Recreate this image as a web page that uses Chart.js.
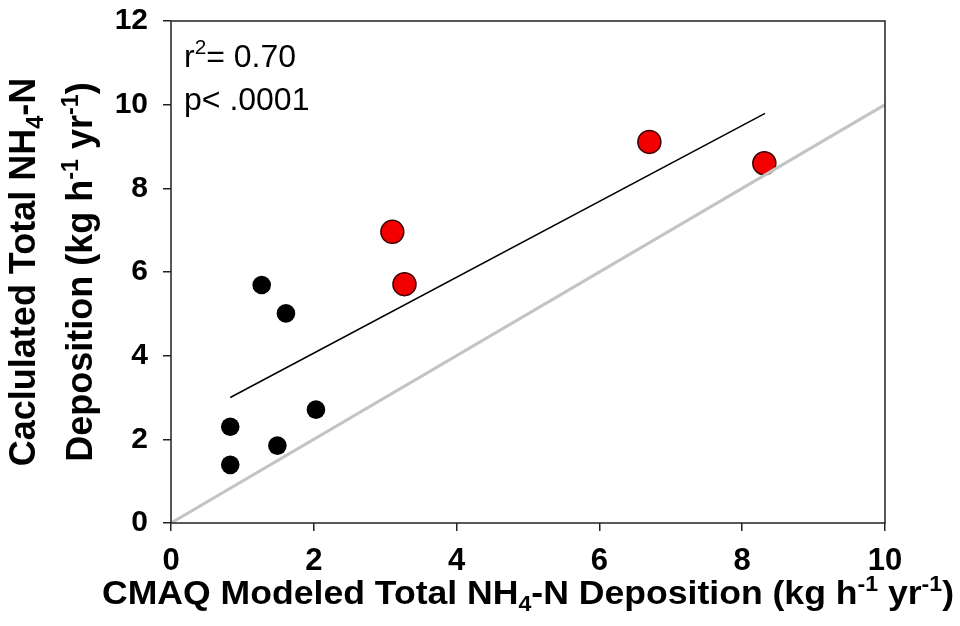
<!DOCTYPE html>
<html>
<head>
<meta charset="utf-8">
<script src="https://cdn.jsdelivr.net/npm/chart.js@4/dist/chart.umd.min.js"></script>
<style>
  html, body { margin: 0; padding: 0; background: #fff; }
  #wrap { width: 960px; height: 626px; position: relative; }
</style>
</head>
<body>
<div id="wrap"><canvas id="dep-chart"></canvas></div>
<script>
// sites: black = low deposition group, red = high deposition group
const blackX = [0.83, 0.83, 1.27, 1.61, 1.49, 2.03];
const blackY = [1.39, 2.30, 5.69, 5.01, 1.85, 2.71];
const redX = [3.10, 3.27, 6.70, 8.31];
const redY = [6.96, 5.71, 9.11, 8.60];

// regression line ends and the 1:1 line
const fitX = [0.83, 8.32];
const fitY = [3.00, 9.79];
const oneX = [0, 10];
const oneY = [0, 10];

const xTicks = [0, 2, 4, 6, 8, 10];
const yTicks = [0, 2, 4, 6, 8, 10, 12];

const statLines = ["0.70", ".0001"];

const FONT = "'Liberation Sans', Arial, Helvetica, sans-serif";

function pts(xs, ys) {
  return xs.map((x, i) => ({ x: x, y: ys[i] }));
}

// draws text with sub/superscript pieces, e.g. NH4, h-1
function drawRich(ctx, parts, x, y, size, weight, align) {
  const widths = parts.map((p) => {
    const s = p.sub || p.sup ? size * 0.65 : size;
    ctx.font = weight + " " + s + "px " + FONT;
    return ctx.measureText(p.t).width;
  });
  const total = widths.reduce((a, b) => a + b, 0);
  let cx = align === "center" ? x - total / 2 : x;
  ctx.textAlign = "left";
  ctx.textBaseline = "alphabetic";
  parts.forEach((p, i) => {
    const s = p.sub || p.sup ? size * 0.65 : size;
    ctx.font = weight + " " + s + "px " + FONT;
    let dy = 0;
    if (p.sub) dy = size * 0.22;
    if (p.sup) dy = -size * 0.4;
    ctx.fillText(p.t, cx, y + dy);
    cx += widths[i];
  });
  return total;
}

function richWidth(ctx, parts, size, weight) {
  let w = 0;
  parts.forEach((p) => {
    const s = p.sub || p.sup ? size * 0.65 : size;
    ctx.font = weight + " " + s + "px " + FONT;
    w += ctx.measureText(p.t).width;
  });
  return w;
}

const xTitle = [
  { t: "CMAQ Modeled Total NH" }, { t: "4", sub: true }, { t: "-N Deposition (kg h" },
  { t: "-1", sup: true }, { t: " yr" }, { t: "-1", sup: true }, { t: ")" },
];
const yTitle1 = [{ t: "Caclulated Total NH" }, { t: "4", sub: true }, { t: "-N" }];
const yTitle2 = [
  { t: "Deposition (kg h" }, { t: "-1", sup: true }, { t: " yr" }, { t: "-1", sup: true }, { t: ")" },
];

const framePlugin = {
  id: "frame",
  afterDraw(chart) {
    const ctx = chart.ctx;
    const a = chart.chartArea;
    ctx.save();
    ctx.strokeStyle = "#222";
    ctx.lineWidth = 1.5;
    ctx.strokeRect(a.left, a.top, a.right - a.left, a.bottom - a.top);
    ctx.fillStyle = "#000";

    // x axis title, fitted to the plot's width
    const xw = richWidth(ctx, xTitle, 33, "bold");
    ctx.save();
    ctx.translate((a.left + a.right) / 2, 604);
    ctx.scale(852 / xw, 1);
    drawRich(ctx, xTitle, 0, 0, 33, "bold", "center");
    ctx.restore();

    // y axis title, two rotated lines
    const midY = (a.top + a.bottom) / 2;
    ctx.save();
    ctx.translate(35, midY);
    ctx.rotate(-Math.PI / 2);
    drawRich(ctx, yTitle1, 0, 0, 36, "bold", "center");
    ctx.restore();
    ctx.save();
    ctx.translate(92, midY);
    ctx.rotate(-Math.PI / 2);
    drawRich(ctx, yTitle2, 0, 0, 36, "bold", "center");
    ctx.restore();

    // fit statistics
    drawRich(ctx, [{ t: "r" }, { t: "2", sup: true }, { t: "= " + statLines[0] }],
      a.left + 13, a.top + 46, 32, "normal", "left");
    drawRich(ctx, [{ t: "p< " + statLines[1] }], a.left + 13, a.top + 89, 32, "normal", "left");
    ctx.restore();
  },
};

const ctx = document.getElementById("dep-chart").getContext("2d");
new Chart(ctx, {
  type: "scatter",
  data: {
    datasets: [
      {
        label: "1:1",
        data: pts(oneX, oneY),
        showLine: true,
        borderColor: "#c4c4c4",
        borderWidth: 3,
        pointRadius: 0,
        order: 0,
      },
      {
        label: "low",
        data: pts(blackX, blackY),
        backgroundColor: "#000",
        borderColor: "#000",
        borderWidth: 0,
        pointRadius: 9.3,
        order: 1,
      },
      {
        label: "high",
        data: pts(redX, redY),
        backgroundColor: "#f20000",
        borderColor: "#3a0000",
        borderWidth: 1.5,
        pointRadius: 11.5,
        order: 2,
      },
      {
        label: "fit",
        data: pts(fitX, fitY),
        showLine: true,
        borderColor: "#000",
        borderWidth: 1.5,
        pointRadius: 0,
        order: 3,
      },
    ],
  },
  options: {
    responsive: true,
    maintainAspectRatio: false,
    animation: false,
    layout: { padding: { left: 0, top: 21, right: 75, bottom: 0 } },
    plugins: {
      legend: { display: false },
      tooltip: { enabled: false },
    },
    scales: {
      x: {
        type: "linear",
        min: 0,
        max: 10,
        afterBuildTicks: (scale) => {
          scale.ticks = xTicks.map((v) => ({ value: v }));
        },
        afterFit: (scale) => {
          scale.height = 103;
          scale.paddingLeft = 0;
          scale.paddingRight = 0;
        },
        ticks: {
          color: "#000",
          padding: 12,
          font: { family: FONT, size: 31, weight: "bold" },
        },
        grid: { drawOnChartArea: false, drawTicks: true, tickLength: 8, color: "#222", lineWidth: 1.5 },
        border: { display: false },
      },
      y: {
        type: "linear",
        min: 0,
        max: 12,
        afterBuildTicks: (scale) => {
          scale.ticks = yTicks.map((v) => ({ value: v }));
        },
        afterFit: (scale) => {
          scale.width = 171;
          scale.paddingTop = 0;
          scale.paddingBottom = 0;
        },
        ticks: {
          color: "#000",
          padding: 15,
          font: { family: FONT, size: 30, weight: "bold" },
        },
        grid: { drawOnChartArea: false, drawTicks: true, tickLength: 8, color: "#222", lineWidth: 1.5 },
        border: { display: false },
      },
    },
  },
  plugins: [framePlugin],
});
</script>
</body>
</html>
